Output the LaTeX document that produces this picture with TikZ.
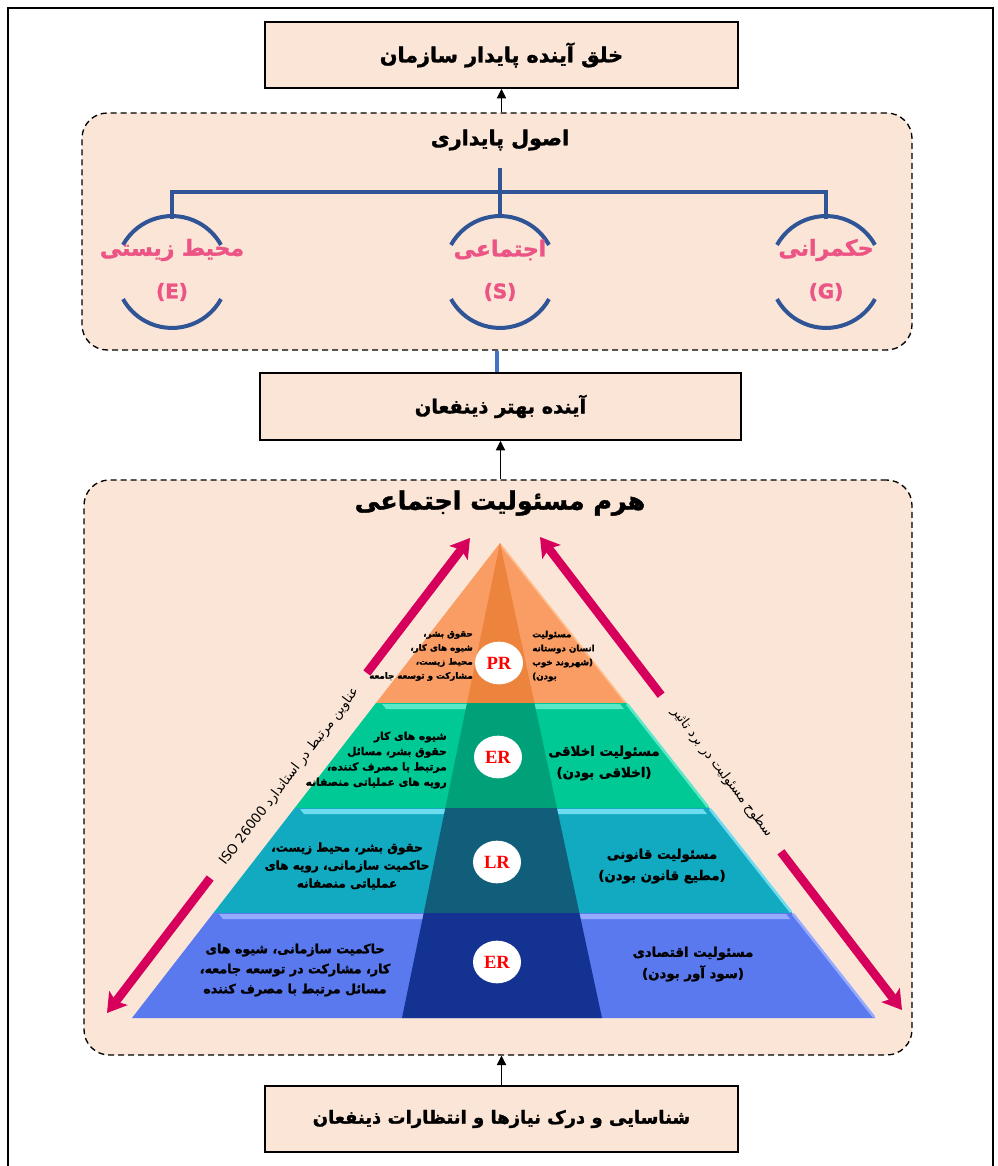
\documentclass[tikz,border=0pt]{standalone}
\usepackage{fontspec}
\usetikzlibrary{arrows.meta,shapes.geometric}
\TeXXeTstate=1
\newfontfamily\fa[Script=Arabic, BoldFeatures={FakeBold=1.6}]{DejaVu Sans}
\newfontfamily\lsr{Liberation Serif}
\newcommand{\pers}[1]{\beginR #1\endR}
\definecolor{peach}{RGB}{250,229,214}
\definecolor{treeblue}{RGB}{47,85,151}
\definecolor{linkblue}{RGB}{68,114,196}
\definecolor{pinkarrow}{RGB}{214,0,92}
\definecolor{pinktext}{RGB}{236,84,134}
\definecolor{orL}{RGB}{250,157,100}
\definecolor{orD}{RGB}{237,132,62}
\definecolor{orH}{RGB}{255,190,140}
\definecolor{tgL}{RGB}{0,201,150}
\definecolor{tgD}{RGB}{0,160,121}
\definecolor{tgH}{RGB}{90,232,200}
\definecolor{cyL}{RGB}{17,170,192}
\definecolor{cyD}{RGB}{16,94,122}
\definecolor{cyH}{RGB}{110,220,240}
\definecolor{blL}{RGB}{90,121,238}
\definecolor{blD}{RGB}{20,50,145}
\definecolor{blH}{RGB}{150,170,255}
\tikzset{
  box/.style={draw=black, line width=1.5pt, fill=peach, minimum width=354.75pt, minimum height=49.5pt, inner sep=0pt, font=\fa\bfseries\fontsize{14}{16}\selectfont},
  group/.style={draw=black, line width=1pt, dash pattern=on 4.5pt off 3pt, fill=peach, rounded corners=19pt, inner sep=0pt},
  link/.style={draw=black, line width=0.6pt, -{Triangle[length=7pt,width=7pt]}},
  tree/.style={draw=treeblue, line width=3pt},
  esg/.style={text=pinktext, font=\fa\bfseries\fontsize{16.5}{18}\selectfont, inner sep=0pt},
  badge/.style={ellipse, fill=white, minimum width=36pt, minimum height=32pt, inner sep=0pt, text=red, font=\lsr\bfseries\fontsize{14}{16}\selectfont},
  lbl/.style={font=\fa\bfseries\fontsize{9}{13.5}\selectfont, align=center, inner sep=0pt, text=black},
  sidearrow/.style={draw=pinkarrow, line width=6.5pt, -{Stealth[length=14pt,width=17pt,inset=3pt]}},
  sidetext/.style={font=\fa\fontsize{10}{12}\selectfont, inner sep=0pt},
}
\begin{document}
\begin{tikzpicture}[x=0.75pt,y=-0.75pt]
\path[use as bounding box] (0,0) rectangle (997,1166);
% outer frame
\draw[line width=1.5pt] (8,1175) -- (8,8) -- (993,8) -- (993,1175);

% boxes
\node[box, font=\fa\bfseries\fontsize{15.5}{17}\selectfont] (top) at (501.5,55) {\pers{خلق آینده پایدار سازمان}};
\node[group, minimum width=622.5pt, minimum height=177.75pt] (pil) at (497,231.5) {};
\node[box, minimum width=360.75pt, minimum height=50.25pt, font=\fa\bfseries\fontsize{14.5}{16}\selectfont] (bet) at (500.5,406.5) {\pers{آینده بهتر ذینفعان}};
\node[group, minimum width=621pt, minimum height=431.25pt] (hrm) at (498,767.5) {};
\node[box, font=\fa\bfseries\fontsize{13.5}{16}\selectfont] (bot) at (501.5,1119) {\pers{شناسایی و درک نیازها و انتظارات ذینفعان}};

% connectors
\draw[link] (top.south |- pil.north) -- (top.south);
\draw[linkblue, line width=3.5pt] (pil.south) -- (pil.south |- bet.north);
\draw[link] (bet.south |- hrm.north) -- (bet.south);
\draw[link] (bot.north) -- (bot.north |- hrm.south);

% principles
\node[font=\fa\bfseries\fontsize{15.5}{17}\selectfont, inner sep=0pt] (ptitle) at (500,140) {\pers{اصول پایداری}};
\coordinate (stem) at (500,168);
\draw[tree] (stem) -- (500,218);
\draw[tree] (172,219) -- (172,192) -- (826,192) -- (826,219);
\foreach \cx in {172,500,826}{
  \draw[tree] (\cx-49,244.9) arc[start angle=209, end angle=331, radius=56];
  \draw[tree] (\cx+49,299.1) arc[start angle=29, end angle=151, radius=56];
}
\node[esg] (env) at (172,250) {\pers{محیط زیستی}};
\node[esg, font=\fa\bfseries\fontsize{15}{17}\selectfont] (envL) at (172,292) {(E)};
\node[esg] (soc) at (500,250) {\pers{اجتماعی}};
\node[esg, font=\fa\bfseries\fontsize{15}{17}\selectfont] (socL) at (500,292) {(S)};
\node[esg] (gov) at (826,250) {\pers{حکمرانی}};
\node[esg, font=\fa\bfseries\fontsize{15}{17}\selectfont] (govL) at (826,292) {(G)};

% pyramid title
\node[font=\fa\bfseries\fontsize{19}{22}\selectfont, inner sep=0pt] (ptit) at (500,503) {\pers{هرم مسئولیت اجتماعی}};

% pyramid bands
% PR
\fill[orL] (500,543) -- (376,703) -- (626.3,703) -- cycle;
\draw[orH, line width=1.2pt] (501,545) -- (625,702);
\fill[orD] (500,543) -- (467,703) -- (534.4,703) -- cycle;
% ER (ethical)
\fill[tgL] (376,703) -- (294.7,808) -- (709.2,808) -- (626.3,703) -- cycle;
\fill[tgH] (382,704) -- (620,704) -- (624,709) -- (386,709) -- cycle;
\draw[tgH, line width=2pt] (627,704) -- (708,807);
\fill[tgD] (467,703) -- (445.3,808) -- (556.9,808) -- (534.4,703) -- cycle;
% LR
\fill[cyL] (294.7,808) -- (213.4,913) -- (792.1,913) -- (709.2,808) -- cycle;
\fill[cyH] (300,809) -- (703,809) -- (707,814) -- (304,814) -- cycle;
\draw[cyH, line width=2pt] (710,809) -- (791,912);
\fill[cyD] (445.3,808) -- (423.7,913) -- (579.4,913) -- (556.9,808) -- cycle;
% ER (economic)
\fill[blL] (213.4,913) -- (132,1018) -- (875,1018) -- (792.1,913) -- cycle;
\fill[blH] (219,914) -- (786,914) -- (790,919) -- (223,919) -- cycle;
\draw[blH, line width=2pt] (793,914) -- (874,1017);
\fill[blD] (423.7,913) -- (402,1018) -- (602,1018) -- (579.4,913) -- cycle;

% badges
\node[badge] (pr) at (499,663) {PR};
\node[badge] (er1) at (498,757) {ER};
\node[badge] (lr) at (497,862) {LR};
\node[badge] (er2) at (497,962) {ER};

% band texts
\node[lbl, font=\fa\bfseries\fontsize{6.5}{10.5}\selectfont, align=right, anchor=east] (prl) at (473,656)
  {\pers{حقوق بشر،}\\\pers{شیوه های کار،}\\\pers{محیط زیست،}\\\pers{مشارکت و توسعه جامعه}};
\node[lbl, font=\fa\bfseries\fontsize{6.5}{10.5}\selectfont, align=left, anchor=west] (prr) at (532,656)
  {\pers{مسئولیت}\\\pers{انسان دوستانه}\\\pers{(شهروند خوب}\\\pers{بودن)}};
\node[lbl, font=\fa\bfseries\fontsize{8}{11.5}\selectfont, align=right, anchor=east] (erl) at (447,760)
  {\pers{شیوه های کار}\\\pers{حقوق بشر، مسائل}\\\pers{مرتبط با مصرف کننده،}\\\pers{رویه های عملیاتی منصفانه}};
\node[lbl, font=\fa\bfseries\fontsize{10}{16}\selectfont] (err) at (604,763)
  {\pers{مسئولیت اخلاقی}\\\pers{(اخلاقی بودن)}};
\node[lbl, font=\fa\bfseries\fontsize{9}{13.5}\selectfont] (lrl) at (347,866)
  {\pers{حقوق بشر، محیط زیست،}\\\pers{حاکمیت سازمانی، رویه های}\\\pers{عملیاتی منصفانه}};
\node[lbl, font=\fa\bfseries\fontsize{10}{16}\selectfont] (lrr) at (662,866)
  {\pers{مسئولیت قانونی}\\\pers{(مطیع قانون بودن)}};
\node[lbl, font=\fa\bfseries\fontsize{9.5}{15}\selectfont] (ecl) at (295,970)
  {\pers{حاکمیت سازمانی، شیوه های}\\\pers{کار، مشارکت در توسعه جامعه،}\\\pers{مسائل مرتبط با مصرف کننده}};
\node[lbl, font=\fa\bfseries\fontsize{10}{16}\selectfont] (ecr) at (693,964)
  {\pers{مسئولیت اقتصادی}\\\pers{(سود آور بودن)}};

% side arrows
\coordinate (LA) at (470,538);
\coordinate (LAt) at (366.8,673.0);
\coordinate (LBt) at (210.2,878.0);
\coordinate (LB) at (107,1013);
\draw[sidearrow] (LAt) -- (LA);
\draw[sidearrow] (LBt) -- (LB);
\node[sidetext, rotate=52.6] (ltext) at (289.5,776.5) {\pers{عناوین مرتبط در استاندارد \beginL ISO 26000\endL{}}};

\coordinate (RA) at (540,537);
\coordinate (RAt) at (661.1,695.2);
\coordinate (RBt) at (780.9,851.8);
\coordinate (RB) at (902,1010);
\draw[sidearrow] (RAt) -- (RA);
\draw[sidearrow] (RBt) -- (RB);
\node[sidetext, rotate=-52.57] (rtext) at (722,772.5) {\pers{سطوح مسئولیت در برد تاثیر}};
\end{tikzpicture}
\end{document}
